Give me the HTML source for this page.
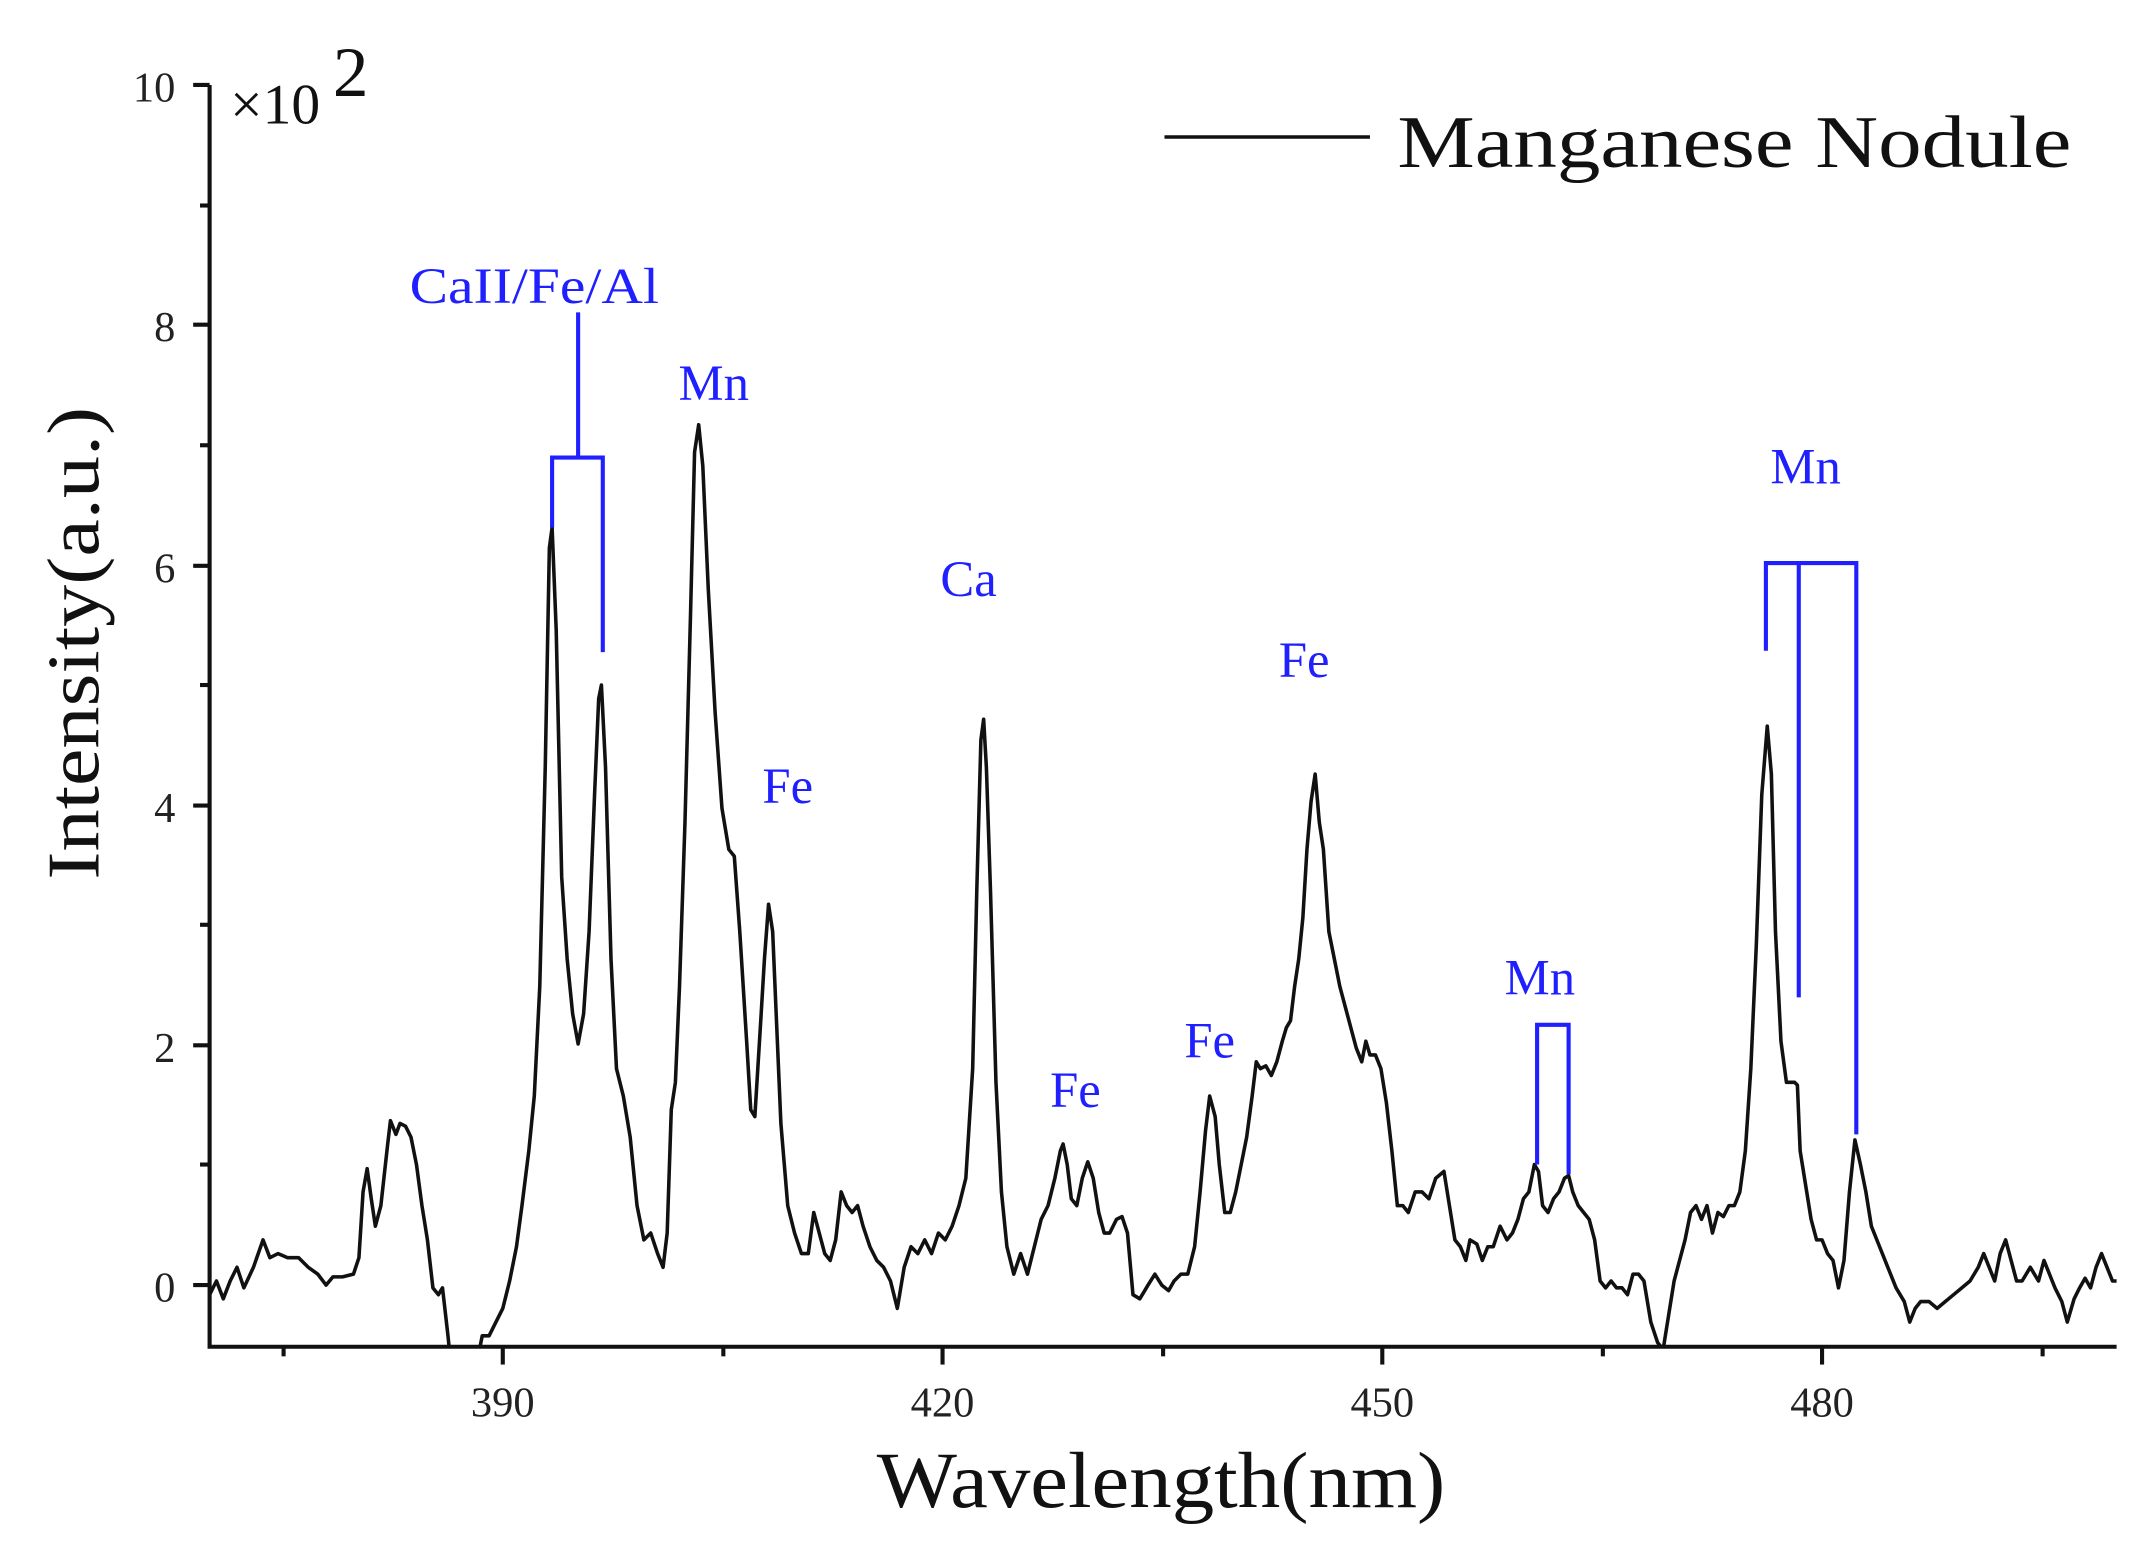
<!DOCTYPE html>
<html><head><meta charset="utf-8"><style>html,body{margin:0;padding:0;background:#fff;}svg{display:block}</style></head>
<body>
<svg width="2144" height="1555" viewBox="0 0 1565 1135" preserveAspectRatio="none" xmlns="http://www.w3.org/2000/svg" font-family="'Liberation Serif', serif">
<defs><clipPath id="c"><rect x="153" y="40" width="1395" height="943"/></clipPath></defs>
<g clip-path="url(#c)">
<polyline fill="none" stroke="#111" stroke-width="2.6" stroke-linejoin="round" points="153,945 158,935 163,948 168,935 173,925 178,940 185,925 192,905 197,918 203,915 210,918 218,918 225,925 232,930 238,938 243,932 250,932 258,930 262,918 265,870 268,853 271,875 274,895 278,880 283,835 285,818 289,828 292,820 296,822 300,830 304,850 308,880 312,905 316,940 320,945 323,940 327,975 329,995 348,995 352,975 357,975 362,965 367,955 372,935 377,910 381,880 386,840 390,800 394,720 398,560 401,400 403,385 406,460 410,640 414,700 418,740 422,762 426,740 430,680 434,580 437,510 439,500 442,560 446,700 450,780 455,800 460,830 465,880 470,905 475,900 480,915 484,925 487,900 490,810 493,790 496,720 500,600 504,450 507,330 510,310 513,340 517,430 522,520 527,590 532,620 536,625 540,680 545,760 548,810 551,815 555,750 558,700 561,660 564,680 567,750 570,820 575,880 580,900 585,915 590,915 594,885 598,900 602,915 606,920 610,905 614,870 618,880 622,885 626,880 630,895 635,910 640,920 645,925 650,935 655,955 660,925 665,910 670,915 675,905 680,915 685,900 690,905 695,895 700,880 705,860 710,780 713,650 716,540 718,525 720,560 723,650 727,790 731,870 735,910 740,930 745,915 750,930 755,910 760,890 765,880 770,860 774,840 776,835 779,850 782,875 786,880 790,860 794,848 798,860 802,885 806,900 810,900 815,890 819,888 823,900 827,945 832,948 838,938 843,930 848,938 853,942 857,935 862,930 867,930 872,910 876,870 880,825 883,800 887,815 890,850 894,885 898,885 902,870 906,850 910,830 914,800 917,775 920,780 924,778 928,785 932,775 936,760 939,750 942,745 945,720 948,700 951,670 954,620 957,585 960,565 963,600 966,620 970,680 974,700 978,720 982,735 986,750 990,765 994,775 997,760 1000,770 1004,770 1008,780 1012,805 1016,840 1020,880 1024,880 1028,885 1033,870 1038,870 1043,875 1048,860 1054,855 1058,880 1062,905 1066,910 1070,920 1073,905 1078,908 1082,920 1086,910 1090,910 1095,895 1100,905 1104,900 1108,890 1112,875 1116,870 1120,850 1123,855 1126,880 1130,885 1134,875 1138,870 1142,860 1145,858 1148,870 1152,880 1156,885 1160,890 1164,905 1168,935 1172,940 1176,935 1180,940 1184,940 1188,945 1192,930 1196,930 1200,935 1205,965 1210,980 1214,985 1218,960 1222,935 1226,920 1230,905 1234,885 1238,880 1242,890 1246,880 1250,900 1254,885 1258,888 1262,880 1266,880 1270,870 1274,840 1278,780 1282,690 1286,580 1290,530 1293,565 1296,680 1300,760 1304,790 1307,790 1310,790 1312,792 1314,840 1318,865 1322,890 1326,905 1330,905 1334,915 1338,920 1342,940 1346,920 1350,870 1354,832 1358,850 1362,870 1366,895 1372,910 1378,925 1384,940 1390,950 1394,965 1398,955 1402,950 1408,950 1414,955 1420,950 1426,945 1432,940 1438,935 1444,925 1448,915 1452,925 1456,935 1460,915 1464,905 1468,920 1472,935 1476,935 1482,925 1488,935 1492,920 1496,930 1500,940 1505,950 1509,965 1514,948 1518,940 1522,933 1526,940 1530,925 1534,915 1538,925 1542,935 1545,935"/>
</g>
<g stroke="#111" stroke-width="3" fill="none">
<polyline points="153,62 153,983 1545,983"/>
<line x1="141" y1="62" x2="153" y2="62"/><line x1="141" y1="237" x2="153" y2="237"/><line x1="141" y1="413" x2="153" y2="413"/><line x1="141" y1="588" x2="153" y2="588"/><line x1="141" y1="763" x2="153" y2="763"/><line x1="141" y1="938" x2="153" y2="938"/>
<line x1="146" y1="150" x2="153" y2="150"/><line x1="146" y1="325" x2="153" y2="325"/><line x1="146" y1="500" x2="153" y2="500"/><line x1="146" y1="675" x2="153" y2="675"/><line x1="146" y1="850" x2="153" y2="850"/>
<line x1="367" y1="983" x2="367" y2="996"/><line x1="688" y1="983" x2="688" y2="996"/><line x1="1009" y1="983" x2="1009" y2="996"/><line x1="1330" y1="983" x2="1330" y2="996"/>
<line x1="207" y1="983" x2="207" y2="990"/><line x1="528" y1="983" x2="528" y2="990"/><line x1="849" y1="983" x2="849" y2="990"/><line x1="1170" y1="983" x2="1170" y2="990"/><line x1="1491" y1="983" x2="1491" y2="990"/>
<line x1="850" y1="100" x2="1000" y2="100" stroke-width="2.5"/>
</g>
<g font-size="31" fill="#222" text-anchor="end">
<text x="128" y="74">10</text><text x="128" y="249">8</text><text x="128" y="425">6</text><text x="128" y="600">4</text><text x="128" y="775">2</text><text x="128" y="950">0</text>
</g>
<g font-size="31" fill="#222" text-anchor="middle">
<text x="367" y="1034">390</text><text x="688" y="1034">420</text><text x="1009" y="1034">450</text><text x="1330" y="1034">480</text>
</g>
<text x="168" y="90" font-size="42" fill="#111">×10</text>
<text x="243" y="70" font-size="52" fill="#111">2</text>
<text x="640" y="1100" font-size="58" fill="#111" textLength="415" lengthAdjust="spacingAndGlyphs">Wavelength(nm)</text>
<text transform="translate(72,642) rotate(-90)" font-size="54" fill="#111" textLength="345" lengthAdjust="spacingAndGlyphs">Intensity(a.u.)</text>
<text x="1020" y="122" font-size="54" fill="#111" textLength="492" lengthAdjust="spacingAndGlyphs">Manganese Nodule</text>
<g stroke="#1f1fff" stroke-width="3" fill="none">
<line x1="422" y1="228" x2="422" y2="334"/><polyline points="403,385 403,334 440,334 440,476"/>
<polyline points="1122,850 1122,748 1145,748 1145,857"/>
<polyline points="1289,475 1289,411 1355,411 1355,828"/><line x1="1313" y1="411" x2="1313" y2="728"/>
</g>
<g font-size="37" fill="#1f1fff" text-anchor="middle">
<text x="390" y="221" textLength="182" lengthAdjust="spacingAndGlyphs">CaII/Fe/Al</text>
<text x="521" y="292">Mn</text>
<text x="575" y="586">Fe</text>
<text x="707" y="435">Ca</text>
<text x="785" y="808">Fe</text>
<text x="883" y="772">Fe</text>
<text x="952" y="494">Fe</text>
<text x="1124" y="726">Mn</text>
<text x="1318" y="353">Mn</text>
</g>
</svg>
</body></html>
